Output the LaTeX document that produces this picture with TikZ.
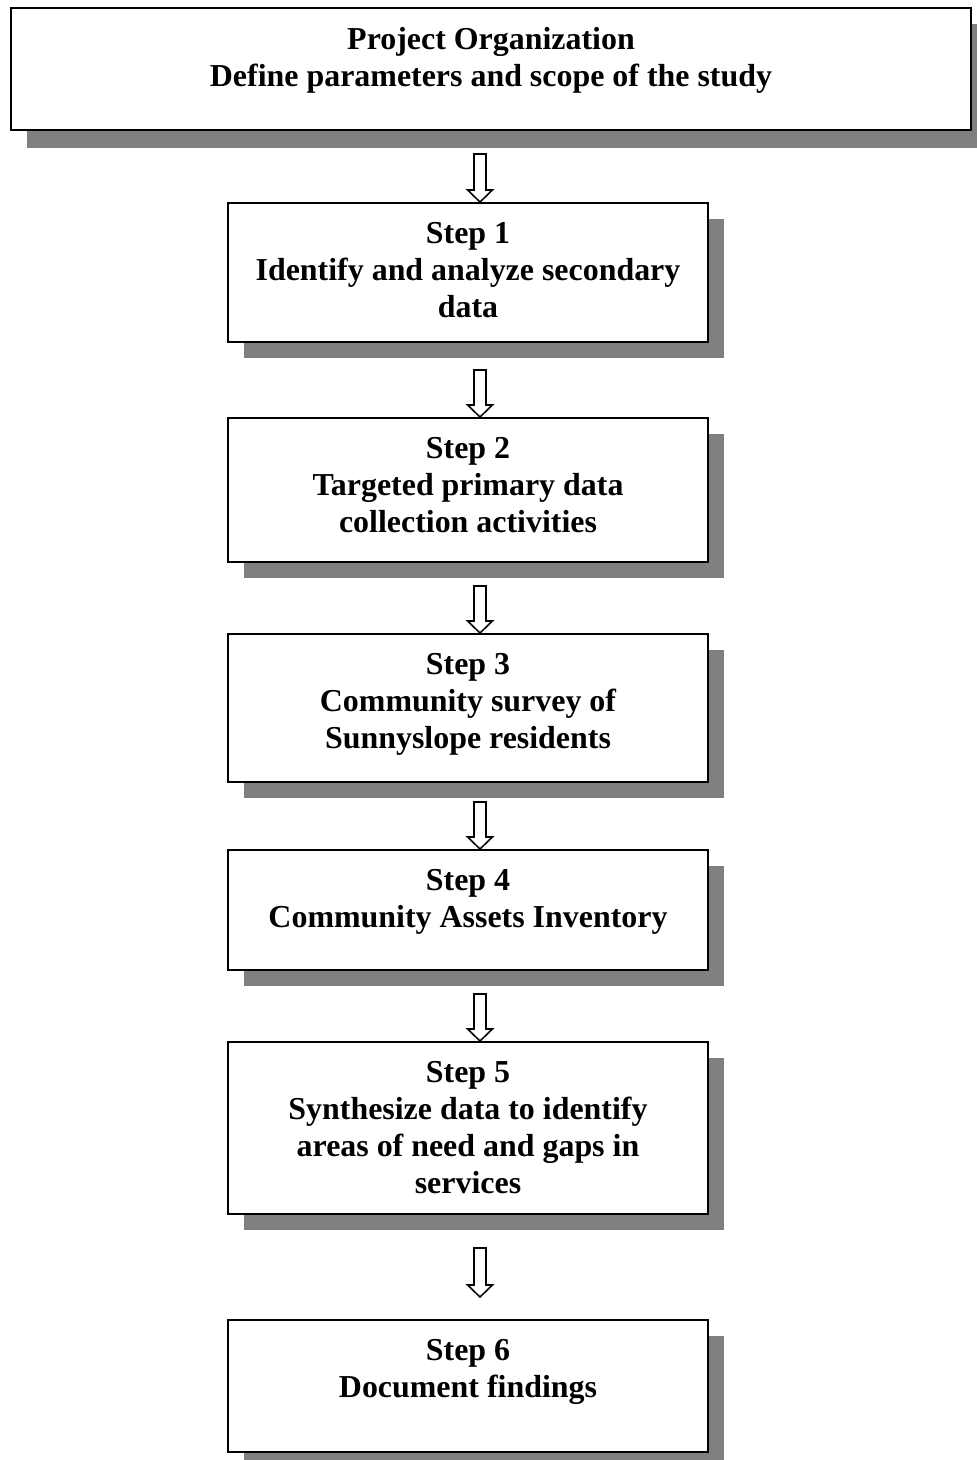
\documentclass[tikz,border=0pt]{standalone}
\usepackage{fontspec}
\setmainfont{Liberation Serif}
\usetikzlibrary{calc,shadows,positioning}
\definecolor{shadowgray}{RGB}{128,128,128}
\tikzset{
	box/.style={draw,line width=1.4pt,fill=white,minimum width=12cm,
		drop shadow={shadow xshift=0.4cm,shadow yshift=-0.4cm,fill=shadowgray,opacity=1}},
	boxtext/.style={anchor=north,inner sep=0pt,align=center,
		font=\fontsize{22.7}{26.3}\selectfont\bfseries},
	hollow/.style={line width=1.1pt,to path={
		let \p1=(\tikztostart), \p2=(\tikztotarget) in
		(\x1-0.15cm,\y1) -- (\x1+0.15cm,\y1) -- (\x1+0.15cm,\y2+0.3cm) -- (\x1+0.31cm,\y2+0.3cm)
		-- (\x1,\y2) -- (\x1-0.31cm,\y2+0.3cm) -- (\x1-0.15cm,\y2+0.3cm) -- cycle}}
}
\begin{document}
\begin{tikzpicture}[x=0.025cm,y=-0.025cm]
		\useasboundingbox[fill=white] (0,0) rectangle (976,1460);
		\node [box,minimum width=24cm,minimum height=3.05cm,
			drop shadow={shadow xshift=0.4cm,shadow yshift=-0.45cm,fill=shadowgray,opacity=1}] (org) at (491,69) {};
		\node [boxtext] (orgt) at ($(org.north)+(0,20)$) {Project Organization\\Define parameters and scope of the study};
		\node [box,minimum height=3.475cm] (s1) at (468,272.5) {};
		\node [boxtext] (s1t) at ($(s1.north)+(0,20)$) {Step 1\\Identify and analyze secondary\\data};
		\node [box,minimum height=3.6cm] (s2) at (468,490) {};
		\node [boxtext] (s2t) at ($(s2.north)+(0,20)$) {Step 2\\Targeted primary data\\collection activities};
		\node [box,minimum height=3.7cm] (s3) at (468,708) {};
		\node [boxtext] (s3t) at ($(s3.north)+(0,20)$) {Step 3\\Community survey of\\Sunnyslope residents};
		\node [box,minimum height=3cm] (s4) at (468,910) {};
		\node [boxtext] (s4t) at ($(s4.north)+(0,20)$) {Step 4\\Community Assets Inventory};
		\node [box,minimum height=4.3cm] (s5) at (468,1128) {};
		\node [boxtext] (s5t) at ($(s5.north)+(0,20)$) {Step 5\\Synthesize data to identify\\areas of need and gaps in\\services};
		\node [box,minimum height=3.3cm] (s6) at (468,1386) {};
		\node [boxtext] (s6t) at ($(s6.north)+(0,20)$) {Step 6\\Document findings};
		\coordinate (a1) at (480,154);
		\coordinate (a2) at (480,370);
		\coordinate (a3) at (480,586);
		\coordinate (a4) at (480,802);
		\coordinate (a5) at (480,994);
		\coordinate (a6) at (480,1248);
		\draw[hollow] (a1) to (a1 |- s1.north);
		\draw[hollow] (a2) to (a2 |- s2.north);
		\draw[hollow] (a3) to (a3 |- s3.north);
		\draw[hollow] (a4) to (a4 |- s4.north);
		\draw[hollow] (a5) to (a5 |- s5.north);
		\draw[hollow] (a6) to ($(a6 |- s6.north)+(0,-22)$);
	\end{tikzpicture}
\end{document}
